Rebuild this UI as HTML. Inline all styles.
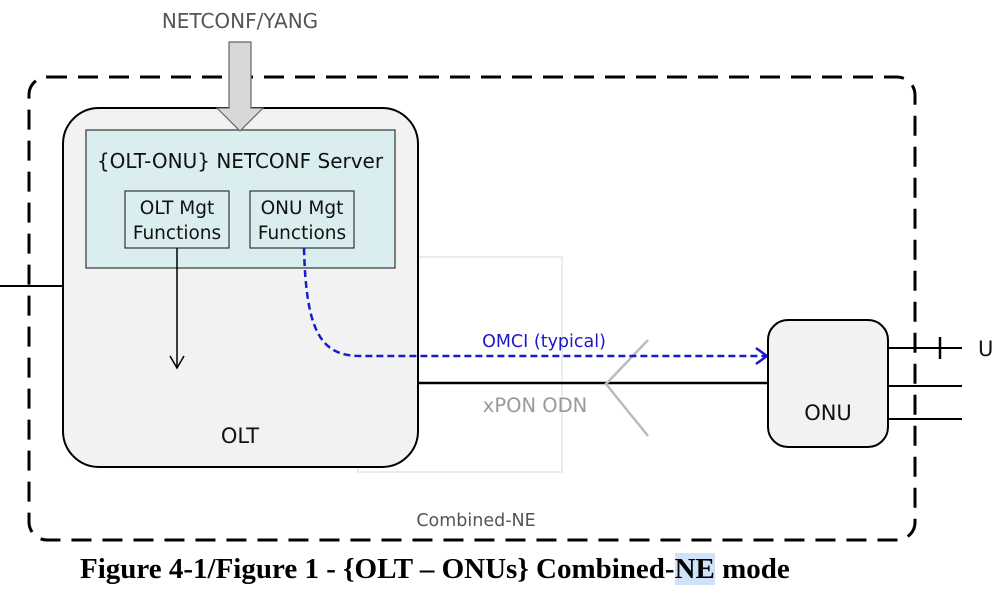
<!DOCTYPE html>
<html><head><style>
body{margin:0;width:996px;height:589px;background:#fff;overflow:hidden}
svg{position:absolute;left:0;top:0}
.cap{position:absolute;left:80px;top:553px;font:bold 29px "Liberation Serif",serif;color:#000;white-space:nowrap}
.hl{background:#cfe2f7}
</style></head><body>
<svg width="996" height="589" font-family="'DejaVu Sans','Liberation Sans',sans-serif">
<rect x="358" y="257" width="204" height="215" fill="none" stroke="#d8d8d8" stroke-width="1"/>
<rect x="29" y="77" width="886" height="463" rx="18" fill="none" stroke="#000" stroke-width="3" stroke-dasharray="20,11"/>
<line x1="0" y1="286" x2="63" y2="286" stroke="#000" stroke-width="2"/>
<rect x="63" y="108" width="355" height="359" rx="36" fill="#f2f2f2" stroke="#000" stroke-width="2"/>
<rect x="86" y="130" width="309" height="138" fill="#daeef0" stroke="#333" stroke-width="1.2"/>
<polygon points="229,42 251,42 251,108 263,108 240,131 217,108 229,108" fill="#d8d8d8" stroke="#666" stroke-width="1.2"/>
<text x="240" y="28" text-anchor="middle" font-size="20" fill="#555">NETCONF/YANG</text>
<text x="240" y="168" text-anchor="middle" font-size="20" fill="#111">{OLT-ONU} NETCONF Server</text>
<rect x="125" y="191" width="104" height="57" fill="#daeef0" stroke="#333" stroke-width="1.2"/>
<rect x="250" y="191" width="104" height="57" fill="#daeef0" stroke="#333" stroke-width="1.2"/>
<text x="177" y="214" text-anchor="middle" font-size="18.5" fill="#111">OLT Mgt</text>
<text x="177" y="239" text-anchor="middle" font-size="18.5" fill="#111">Functions</text>
<text x="302" y="214" text-anchor="middle" font-size="18.5" fill="#111">ONU Mgt</text>
<text x="302" y="239" text-anchor="middle" font-size="18.5" fill="#111">Functions</text>
<line x1="177" y1="248" x2="177" y2="367" stroke="#000" stroke-width="1.5"/>
<polyline points="170,356 177,368 184,356" fill="none" stroke="#000" stroke-width="1.5"/>
<text x="240" y="443" text-anchor="middle" font-size="21" fill="#111">OLT</text>
<line x1="418" y1="383" x2="768" y2="383" stroke="#000" stroke-width="2.5"/>
<polyline points="648,340 606,384 648,436" fill="none" stroke="#bbb" stroke-width="2.5"/>
<path d="M304,248 C306,330 320,356 360,356 L766,356" fill="none" stroke="#1a1acc" stroke-width="2.5" stroke-dasharray="7,4"/>
<polyline points="756,348 767,356 756,364" fill="none" stroke="#1a1acc" stroke-width="2.5"/>
<text x="544" y="347" text-anchor="middle" font-size="17.5" fill="#1a1acc">OMCI (typical)</text>
<text x="535" y="412" text-anchor="middle" font-size="19.5" fill="#999">xPON ODN</text>
<rect x="768" y="320" width="120" height="127" rx="20" fill="#f2f2f2" stroke="#000" stroke-width="2"/>
<text x="828" y="420" text-anchor="middle" font-size="21" fill="#111">ONU</text>
<line x1="888" y1="348" x2="962" y2="348" stroke="#000" stroke-width="2"/>
<line x1="940" y1="337" x2="940" y2="359" stroke="#000" stroke-width="2.5"/>
<line x1="888" y1="386" x2="962" y2="386" stroke="#000" stroke-width="2"/>
<line x1="888" y1="419" x2="962" y2="419" stroke="#000" stroke-width="2"/>
<text x="978" y="356" font-size="21" fill="#111">U</text>
<text x="476" y="526" text-anchor="middle" font-size="17.5" fill="#555">Combined-NE</text>
</svg>
<div class="cap">Figure 4-1/Figure 1 - {OLT – ONUs} Combined-<span class="hl">NE</span> mode</div>
</body></html>
